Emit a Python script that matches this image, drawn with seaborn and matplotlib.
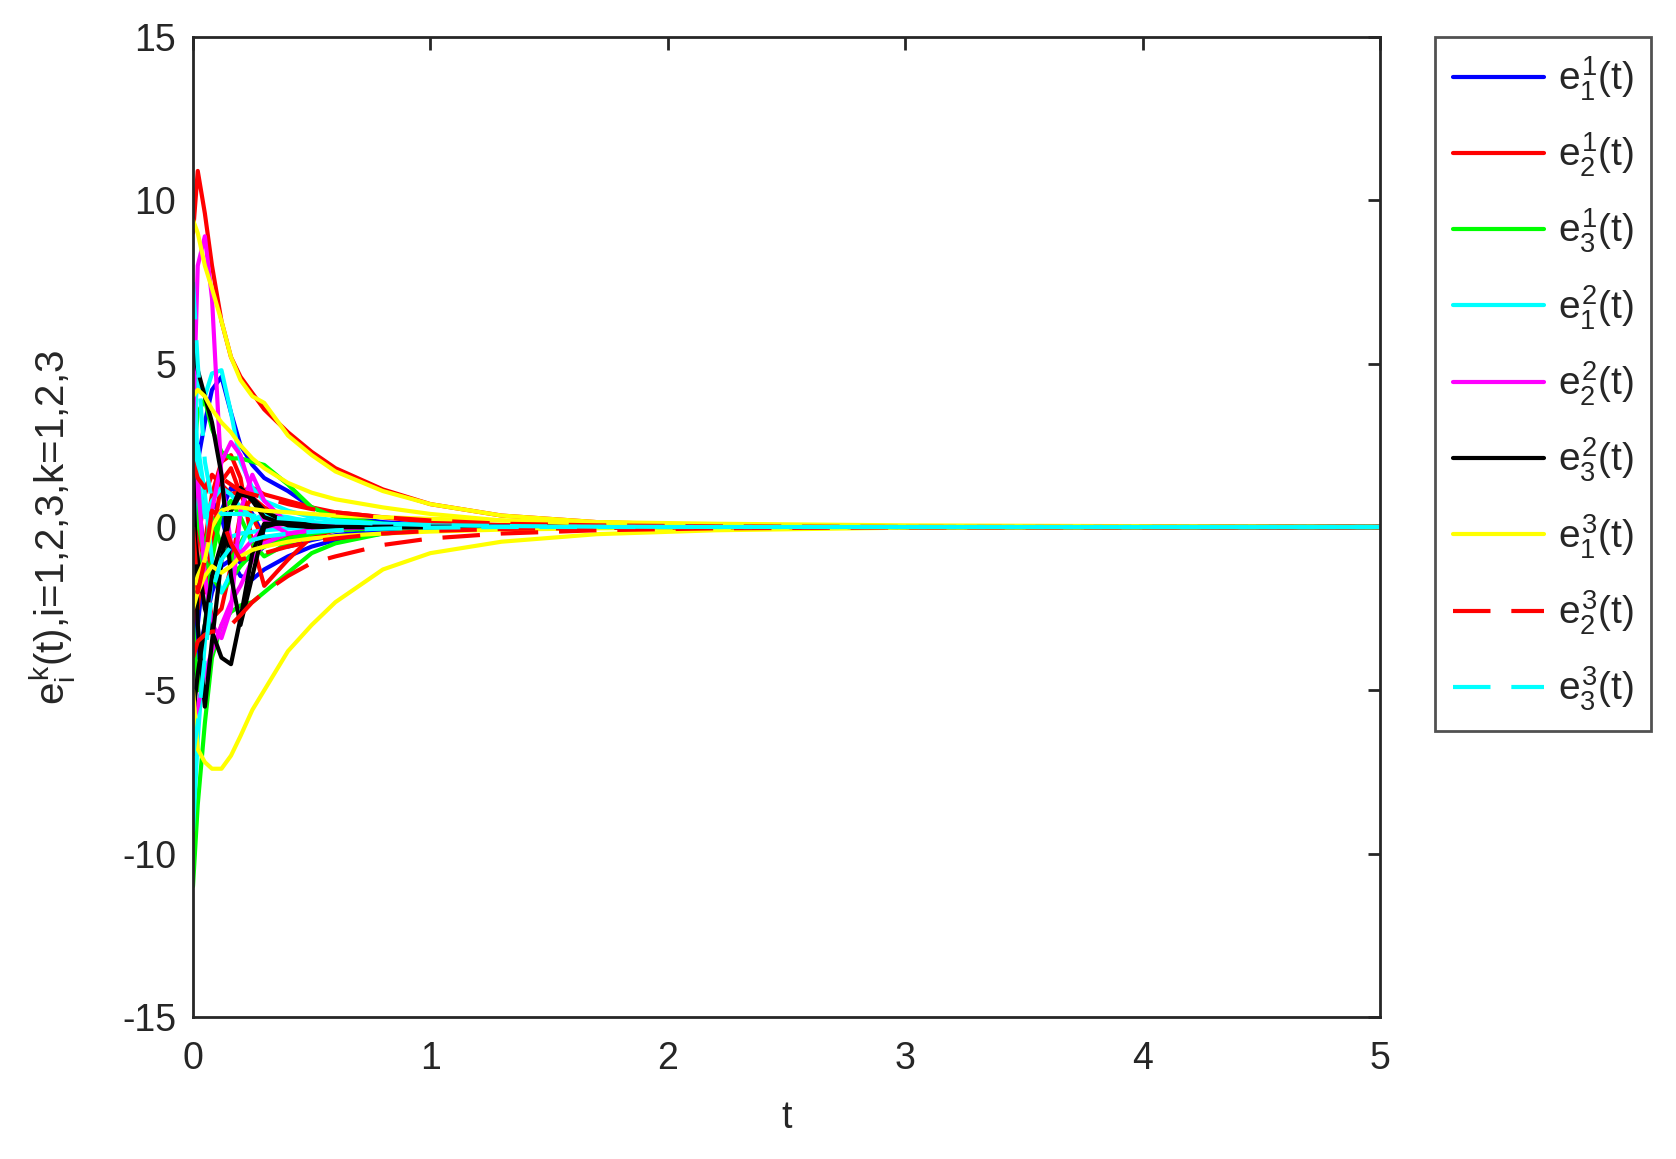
import numpy as np
import pandas as pd
import seaborn as sns
import matplotlib
matplotlib.use("Agg")
import matplotlib.pyplot as plt

# time knots
t = [0, 0.02, 0.05, 0.08, 0.12, 0.16, 0.2, 0.25, 0.3, 0.4, 0.5, 0.6, 0.8, 1.0, 1.3, 1.7, 2.2, 3.0, 5.0]

# e_1^1 (blue)
e11 = [
    [1.0, 2.0, 3.2, 4.2, 4.6, 3.5, 2.5, 1.9, 1.5, 1.1, 0.6, 0.35, 0.15, 0.06, 0.02, 0, 0, 0, 0],
    [-2.0, -4.0, -3.0, -2.0, -1.2, -1.0, -1.5, -1.6, -1.3, -0.9, -0.6, -0.4, -0.2, -0.1, -0.04, -0.01, 0, 0, 0],
    [3.0, 1.0, -1.0, -0.5, 0.5, 1.2, 1.0, 0.4, -0.3, -0.6, -0.4, -0.25, -0.1, -0.05, -0.02, 0, 0, 0, 0],
    [-4.5, -3.0, -1.0, 0.8, 0.3, -0.8, -1.1, -0.9, -0.6, -0.3, -0.15, -0.08, -0.03, 0, 0, 0, 0, 0, 0],
]
# e_2^1 (red)
e21 = [
    [9.0, 10.9, 9.6, 8.0, 6.3, 5.2, 4.6, 4.1, 3.6, 2.9, 2.3, 1.8, 1.15, 0.7, 0.35, 0.15, 0.05, 0.01, 0],
    [-1.0, -2.5, -0.5, 1.0, 2.0, 2.2, 1.5, -0.5, -1.8, -1.0, -0.3, -0.1, 0, 0, 0, 0, 0, 0, 0],
    [1.5, -1.0, -2.0, -0.5, 1.4, 1.8, 1.0, 0.3, -0.4, -0.3, -0.1, 0, 0, 0, 0, 0, 0, 0, 0],
    [-3.0, -0.5, 1.0, 1.6, 1.3, 1.0, 1.1, 1.2, 1.0, 0.8, 0.6, 0.45, 0.3, 0.15, 0.06, 0.02, 0, 0, 0],
    [5.0, 0.5, -1.5, -2.8, -2.5, -1.2, 0.4, 0.9, 0.6, 0.2, 0.05, 0, 0, 0, 0, 0, 0, 0, 0],
]
# e_3^1 (green)
e31 = [
    [-11.0, -8.5, -6.0, -4.0, -3.0, -2.6, -2.4, -2.3, -2.0, -1.4, -0.8, -0.5, -0.2, -0.08, -0.02, 0, 0, 0, 0],
    [2.0, 3.5, 3.9, 3.0, 2.3, 2.1, 2.1, 2.0, 1.9, 1.3, 0.6, 0.3, 0.1, 0.04, 0.01, 0, 0, 0, 0],
    [0.0, -1.5, -0.5, 0.3, -0.6, -1.0, -0.5, 0.2, 0.3, 0.1, 0, 0, 0, 0, 0, 0, 0, 0, 0],
    [5.5, 0.2, -1.0, -1.5, -2.0, -1.6, -1.2, -0.8, -0.6, -0.35, -0.2, -0.1, -0.04, 0, 0, 0, 0, 0, 0],
    [-3.0, -5.0, -3.0, -1.0, 0.5, 0.8, 0.3, -0.5, -0.9, -0.5, -0.2, -0.08, -0.02, 0, 0, 0, 0, 0, 0],
]
# e_1^2 (cyan)
e12 = [
    [3.0, 4.5, 4.0, 4.7, 4.8, 3.5, 2.0, 1.2, 0.8, 0.5, 0.3, 0.2, 0.1, 0.05, 0.02, 0, 0, 0, 0],
    [-9.3, -6.5, -3.5, -1.5, -0.6, -0.3, -0.2, -0.15, -0.1, -0.05, 0, 0, 0, 0, 0, 0, 0, 0, 0],
    [7.0, 1.5, 0.3, 0.8, 1.2, 1.0, 0.6, 0.3, 0.25, 0.2, 0.15, 0.1, 0.05, 0.02, 0, 0, 0, 0, 0],
    [-1.0, 2.5, 1.0, -1.0, -2.0, -1.4, -0.6, 0.2, 0.4, 0.3, 0.15, 0.08, 0.03, 0, 0, 0, 0, 0, 0],
]
# e_2^2 (magenta)
e22 = [
    [3.0, 8.0, 8.9, 7.0, 1.5, -0.5, -0.8, -0.4, 0.0, 0.1, 0.05, 0, 0, 0, 0, 0, 0, 0, 0],
    [-6.0, -5.5, -4.5, -3.8, -3.0, -2.3, -1.8, -1.0, -0.5, -0.2, -0.1, -0.05, 0, 0, 0, 0, 0, 0, 0],
    [1.0, -2.0, -1.0, 0.5, 2.0, 2.6, 2.2, 1.0, 0.2, -0.2, -0.1, 0, 0, 0, 0, 0, 0, 0, 0],
    [0.5, 1.5, -1.5, -3.0, -3.4, -2.5, 0.5, 1.6, 0.8, 0.1, 0, 0, 0, 0, 0, 0, 0, 0, 0],
]
# e_3^2 (black)
e32 = [
    [5.6, 4.8, 4.0, 3.2, 1.6, -1.5, -3.0, -1.5, 0.0, 0.2, 0.05, 0, 0, 0, 0, 0, 0, 0, 0],
    [-5.8, -4.5, -3.0, -1.5, -0.5, 0.5, 1.0, 0.9, 0.5, 0.1, 0, 0, 0, 0, 0, 0, 0, 0, 0],
    [0.0, -1.0, -2.5, -3.2, -4.0, -4.2, -2.8, -0.8, 0.1, 0.1, 0, 0, 0, 0, 0, 0, 0, 0, 0],
    [2.0, -3.0, -5.5, -3.5, -1.0, 0.5, 1.2, 0.8, 0.3, 0.05, 0, 0, 0, 0, 0, 0, 0, 0, 0],
]
# e_1^3 (yellow)
e13 = [
    [9.4, 9.0, 8.0, 7.3, 6.3, 5.2, 4.5, 4.0, 3.8, 2.8, 2.2, 1.7, 1.1, 0.7, 0.35, 0.15, 0.06, 0.01, 0],
    [4.0, 4.2, 4.0, 3.6, 3.2, 2.9, 2.5, 2.1, 1.8, 1.35, 1.05, 0.85, 0.6, 0.4, 0.2, 0.1, 0.04, 0.01, 0],
    [-5.0, -6.8, -7.2, -7.4, -7.4, -7.0, -6.4, -5.6, -5.0, -3.8, -3.0, -2.3, -1.3, -0.8, -0.45, -0.22, -0.1, -0.02, 0],
    [-2.0, -1.5, -1.0, 0.0, 0.5, 0.6, 0.6, 0.55, 0.5, 0.45, 0.4, 0.35, 0.3, 0.25, 0.2, 0.15, 0.1, 0.05, 0],
    [-2.5, -2.0, -1.5, -1.2, -1.4, -1.2, -0.9, -0.7, -0.6, -0.45, -0.35, -0.28, -0.2, -0.14, -0.08, -0.04, -0.01, 0, 0],
]
# e_2^3 (red dashed)
e23 = [
    [-4.0, -3.5, -3.3, -3.2, -3.2, -3.0, -2.7, -2.3, -2.0, -1.5, -1.1, -0.9, -0.55, -0.35, -0.2, -0.1, -0.04, -0.01, 0],
    [2.0, 1.5, 1.2, 1.6, 1.5, 1.3, 1.1, 1.0, 0.9, 0.7, 0.55, 0.45, 0.3, 0.2, 0.1, 0.05, 0.02, 0, 0],
    [0, -2.0, -1.0, 0.5, 0.3, -0.5, -1.0, -0.9, -0.8, -0.6, -0.45, -0.35, -0.2, -0.12, -0.06, -0.03, -0.01, 0, 0],
]
# e_3^3 (cyan dashed)
e33 = [
    [7.5, 5.0, 2.0, 0.8, 0.4, 0.4, 0.4, 0.35, 0.3, 0.25, 0.2, 0.15, 0.1, 0.06, 0.03, 0.01, 0, 0, 0],
    [-7.0, -6.0, -4.0, -2.0, -1.0, -0.6, -0.5, -0.4, -0.3, -0.2, -0.15, -0.1, -0.05, -0.02, 0, 0, 0, 0, 0],
]

labels = [r"$e_1^1$(t)", r"$e_2^1$(t)", r"$e_3^1$(t)",
          r"$e_1^2$(t)", r"$e_2^2$(t)", r"$e_3^2$(t)",
          r"$e_1^3$(t)", r"$e_2^3$(t)", r"$e_3^3$(t)"]
all_series = [e11, e21, e31, e12, e22, e32, e13, e23, e33]
colors = ["#0000ff", "#ff0000", "#00ff00", "#00ffff", "#ff00ff", "#000000",
          "#ffff00", "#ff0000", "#00ffff"]
styles = ["-"] * 7 + [(0, (9, 5))] * 2
LW = 3.0

sns.set_style("white")
plt.rcParams["font.family"] = ["Liberation Sans", "DejaVu Sans"]
plt.rcParams["mathtext.fontset"] = "custom"
plt.rcParams["mathtext.rm"] = "Liberation Sans"
plt.rcParams["mathtext.it"] = "Liberation Sans"
plt.rcParams["axes.unicode_minus"] = False

W, H = 1676, 1159
fig = plt.figure(figsize=(W / 100, H / 100), dpi=100)
ax = fig.add_axes([193 / W, 1 - 1017 / H, (1380 - 193) / W, (1017 - 37) / H])

handles = []
for name, curves, col, ls in zip(labels, all_series, colors, styles):
    rows = []
    for j, c in enumerate(curves):
        for tt, v in zip(t, c):
            rows.append((tt, v, j))
    df = pd.DataFrame(rows, columns=["t", "e", "curve"])
    n0 = len(ax.lines)
    sns.lineplot(data=df, x="t", y="e", units="curve", estimator=None,
                 color=col, sort=False, legend=False, ax=ax)
    for ln in ax.lines[n0:]:
        ln.set_linewidth(LW)
        ln.set_linestyle(ls)
    handles.append(ax.lines[n0])

ax.set_xlim(0, 5)
ax.set_ylim(-15, 15)
ax.set_xticks([0, 1, 2, 3, 4, 5])
ax.set_yticks([-15, -10, -5, 0, 5, 10, 15])
ax.tick_params(direction="in", length=9, width=2, labelsize=27, colors="#262626",
               top=True, right=True)
ax.tick_params(axis="x", pad=17)
ax.tick_params(axis="y", pad=12)
for s in ax.spines.values():
    s.set_color("#262626")
    s.set_linewidth(2)

ax.set_xlabel("t", fontsize=27, color="#262626")
ax.set_ylabel(r"$e_i^k$(t),i=1,2,3,k=1,2,3", fontsize=29, color="#262626")
ax.xaxis.set_label_coords(0.5, -0.085)
ax.yaxis.set_label_coords(-0.097, 0.5)

leg = ax.legend(handles, labels, loc="upper left",
                bbox_to_anchor=(1435 / W, 1 - 37 / H), bbox_transform=fig.transFigure,
                borderaxespad=0, fontsize=28, handlelength=2.35, labelspacing=0.72,
                borderpad=0.45, handletextpad=0.35, frameon=True, fancybox=False)
leg.get_frame().set_edgecolor("#262626")
leg.get_frame().set_linewidth(2)
for ln in leg.get_lines():
    ln.set_linewidth(LW)

fig.savefig("out.png", dpi=100)
